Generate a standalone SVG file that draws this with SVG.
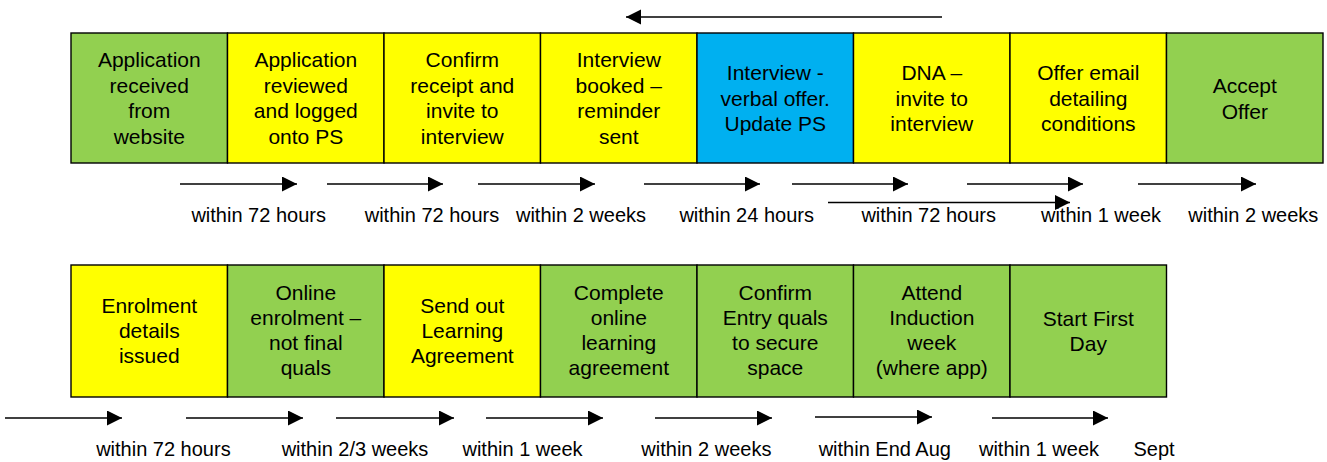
<svg xmlns="http://www.w3.org/2000/svg" width="1327" height="462" viewBox="0 0 1327 462">
<style>
.box{stroke:#000;stroke-width:1.4}
.g{fill:#92D050}.y{fill:#FFFF00}.b{fill:#00B0F0}
.t{font-family:"Liberation Sans",Arial,sans-serif;font-size:21px;fill:#000;text-anchor:middle}
.l{font-family:"Liberation Sans",Arial,sans-serif;font-size:20px;fill:#000;text-anchor:middle}
.a{stroke:#000;stroke-width:1.4;fill:none;marker-end:url(#ah)}
</style>
<defs>
<marker id="ah" markerUnits="userSpaceOnUse" markerWidth="16" markerHeight="16" refX="15" refY="7.5" orient="auto">
<path d="M0,0 L15,7.5 L0,15 Z" fill="#000"/>
</marker>
</defs>
<rect width="1327" height="462" fill="#fff"/>
<g id="n1"><rect class="box g" x="71" y="33" width="156.5" height="130"/><text class="t" x="149.3"><tspan x="149.3" y="67">Application</tspan><tspan x="149.3" y="92.5">received</tspan><tspan x="149.3" y="118">from</tspan><tspan x="149.3" y="143.5">website</tspan></text></g>
<g id="n2"><rect class="box y" x="227.5" y="33" width="156.5" height="130"/><text class="t"><tspan x="305.8" y="67">Application</tspan><tspan x="305.8" y="92.5">reviewed</tspan><tspan x="305.8" y="118">and logged</tspan><tspan x="305.8" y="143.5">onto PS</tspan></text></g>
<g id="n3"><rect class="box y" x="384" y="33" width="156.5" height="130"/><text class="t"><tspan x="462.3" y="67">Confirm</tspan><tspan x="462.3" y="92.5">receipt and</tspan><tspan x="462.3" y="118">invite to</tspan><tspan x="462.3" y="143.5">interview</tspan></text></g>
<g id="n4"><rect class="box y" x="540.5" y="33" width="156.5" height="130"/><text class="t"><tspan x="618.8" y="67">Interview</tspan><tspan x="618.8" y="92.5">booked –</tspan><tspan x="618.8" y="118">reminder</tspan><tspan x="618.8" y="143.5">sent</tspan></text></g>
<g id="n5"><rect class="box b" x="697" y="33" width="156.5" height="130"/><text class="t"><tspan x="775.3" y="80">Interview -</tspan><tspan x="775.3" y="105.5">verbal offer.</tspan><tspan x="775.3" y="131">Update PS</tspan></text></g>
<g id="n6"><rect class="box y" x="853.5" y="33" width="156.5" height="130"/><text class="t"><tspan x="931.8" y="80">DNA –</tspan><tspan x="931.8" y="105.5">invite to</tspan><tspan x="931.8" y="131">interview</tspan></text></g>
<g id="n7"><rect class="box y" x="1010" y="33" width="156.5" height="130"/><text class="t"><tspan x="1088.3" y="80">Offer email</tspan><tspan x="1088.3" y="105.5">detailing</tspan><tspan x="1088.3" y="131">conditions</tspan></text></g>
<g id="n8"><rect class="box g" x="1166.5" y="33" width="156.5" height="130"/><text class="t"><tspan x="1244.8" y="93">Accept</tspan><tspan x="1244.8" y="118.5">Offer</tspan></text></g>

<g id="m1"><rect class="box y" x="71" y="265" width="156.5" height="132"/><text class="t"><tspan x="149.3" y="313">Enrolment</tspan><tspan x="149.3" y="338">details</tspan><tspan x="149.3" y="363">issued</tspan></text></g>
<g id="m2"><rect class="box g" x="227.5" y="265" width="156.5" height="132"/><text class="t"><tspan x="305.8" y="300">Online</tspan><tspan x="305.8" y="325">enrolment –</tspan><tspan x="305.8" y="350">not final</tspan><tspan x="305.8" y="375">quals</tspan></text></g>
<g id="m3"><rect class="box y" x="384" y="265" width="156.5" height="132"/><text class="t"><tspan x="462.3" y="313">Send out</tspan><tspan x="462.3" y="338">Learning</tspan><tspan x="462.3" y="363">Agreement</tspan></text></g>
<g id="m4"><rect class="box g" x="540.5" y="265" width="156.5" height="132"/><text class="t"><tspan x="618.8" y="300">Complete</tspan><tspan x="618.8" y="325">online</tspan><tspan x="618.8" y="350">learning</tspan><tspan x="618.8" y="375">agreement</tspan></text></g>
<g id="m5"><rect class="box g" x="697" y="265" width="156.5" height="132"/><text class="t"><tspan x="775.3" y="300">Confirm</tspan><tspan x="775.3" y="325">Entry quals</tspan><tspan x="775.3" y="350">to secure</tspan><tspan x="775.3" y="375">space</tspan></text></g>
<g id="m6"><rect class="box g" x="853.5" y="265" width="156.5" height="132"/><text class="t"><tspan x="931.8" y="300">Attend</tspan><tspan x="931.8" y="325">Induction</tspan><tspan x="931.8" y="350">week</tspan><tspan x="931.8" y="375">(where app)</tspan></text></g>
<g id="m7"><rect class="box g" x="1010" y="265" width="156.5" height="132"/><text class="t"><tspan x="1088.3" y="326">Start First</tspan><tspan x="1088.3" y="351">Day</tspan></text></g>

<g id="connectors">
<line class="a" x1="942" y1="17" x2="626" y2="17"/>
<line class="a" x1="180" y1="184" x2="297" y2="184"/>
<line class="a" x1="327" y1="184" x2="443" y2="184"/>
<line class="a" x1="478" y1="184" x2="595" y2="184"/>
<line class="a" x1="644" y1="184" x2="760" y2="184"/>
<line class="a" x1="792" y1="184" x2="908" y2="184"/>
<line class="a" x1="967" y1="184" x2="1083" y2="184"/>
<line class="a" x1="1138" y1="184" x2="1256" y2="184"/>
<line class="a" x1="828" y1="202.5" x2="1070" y2="202.5"/>
<line class="a" x1="5" y1="418" x2="122" y2="418"/>
<line class="a" x1="186" y1="418" x2="303" y2="418"/>
<line class="a" x1="336" y1="418" x2="454" y2="418"/>
<line class="a" x1="486" y1="418" x2="603" y2="418"/>
<line class="a" x1="655" y1="418" x2="772" y2="418"/>
<line class="a" x1="815" y1="417" x2="932" y2="417"/>
<line class="a" x1="992" y1="418" x2="1108" y2="418"/>
</g>

<g id="labels">
<text class="l" x="258.7" y="222">within 72 hours</text>
<text class="l" x="432" y="222">within 72 hours</text>
<text class="l" x="581" y="222">within 2 weeks</text>
<text class="l" x="746.7" y="222">within 24 hours</text>
<text class="l" x="928.7" y="222">within 72 hours</text>
<text class="l" x="1101" y="222">within 1 week</text>
<text class="l" x="1253.3" y="222">within 2 weeks</text>
<text class="l" x="163.4" y="456">within 72 hours</text>
<text class="l" x="355" y="456">within 2/3 weeks</text>
<text class="l" x="522.5" y="456">within 1 week</text>
<text class="l" x="706.4" y="456">within 2 weeks</text>
<text class="l" x="884.8" y="456">within End Aug</text>
<text class="l" x="1039" y="456">within 1 week</text>
<text class="l" x="1154" y="456">Sept</text>
</g>
</svg>
